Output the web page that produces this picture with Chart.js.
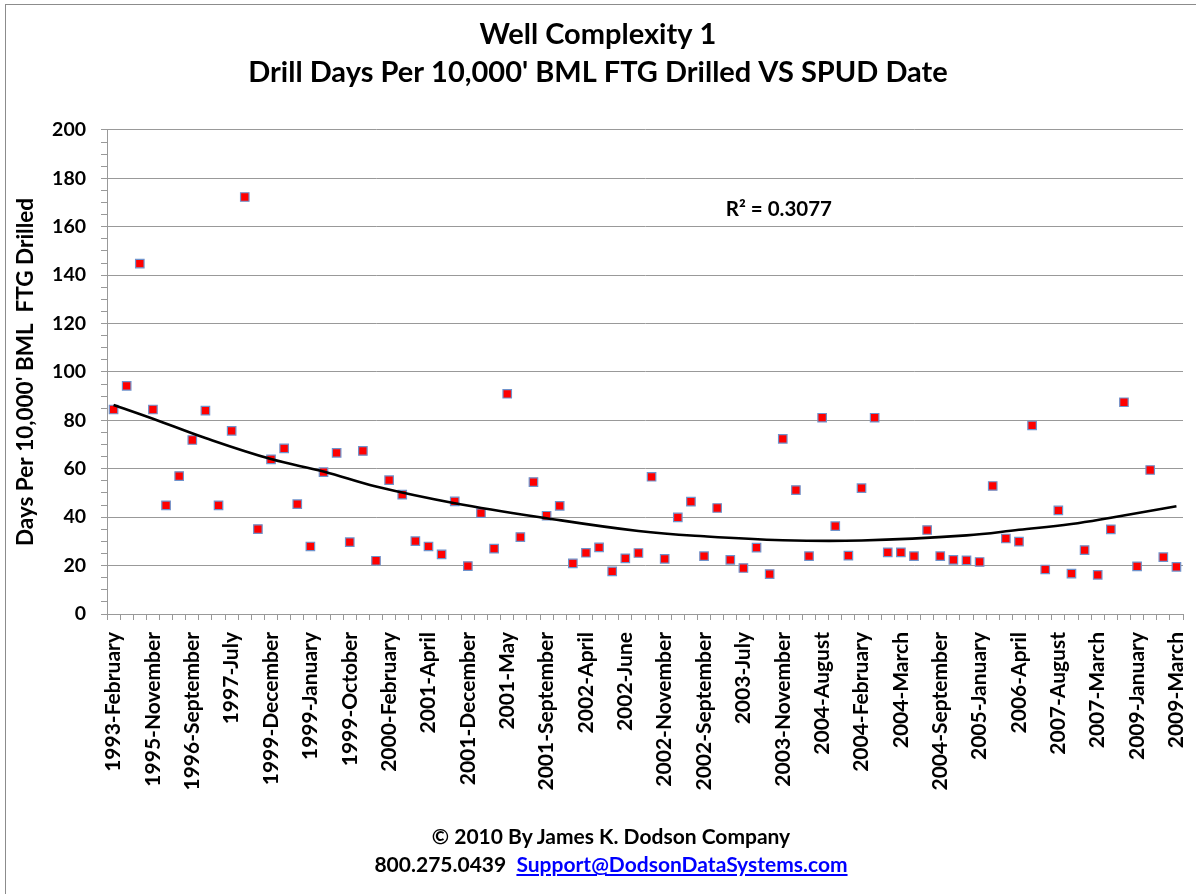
<!DOCTYPE html>
<html>
<head>
<meta charset="utf-8">
<script src="https://cdn.jsdelivr.net/npm/chart.js@4.4.1/dist/chart.umd.min.js"></script>
<style>
  body { margin: 0; background: #fff; }
  #wrap { position: relative; width: 1196px; height: 894px; }
  #frame { position: absolute; left: 5px; top: 4px; width: 1200px; height: 900px;
           border-left: 1px solid #8c8c8c; border-top: 1px solid #8c8c8c; }
  .foot { position: absolute; left: 13px; width: 1196px; text-align: center;
          font: bold 21px/25px Lato, sans-serif; color: #000; }
  .foot a { color: #0000ff; text-decoration: underline; }
</style>
</head>
<body>
<div id="wrap">
  <canvas id="wellChart" width="1196" height="894"></canvas>
  <div id="frame"></div>
  <div class="foot" style="top:823px">© 2010 By James K. Dodson Company</div>
  <div class="foot" style="top:851px">800.275.0439&nbsp;&nbsp;<a href="#">Support@DodsonDataSystems.com</a></div>
</div>
<script>
// tick labels shown on the x axis (every 3rd well)
const tickLabels = [
  '1993-February', '1995-November', '1996-September', '1997-July', '1999-December',
  '1999-January', '1999-October', '2000-February', '2001-April', '2001-December',
  '2001-May', '2001-September', '2002-April', '2002-June', '2002-November',
  '2002-September', '2003-July', '2003-November', '2004-August', '2004-February',
  '2004-March', '2004-September', '2005-January', '2006-April', '2007-August',
  '2007-March', '2009-January', '2009-March'
];

// drill days per 10,000' for each well, in SPUD order
const drillDays = [
  84.5, 94.3, 144.8, 84.5, 44.9, 57.0, 71.9, 84.0, 44.9, 75.7,
  172.3, 35.1, 63.9, 68.4, 45.4, 27.9, 58.6, 66.6, 29.7, 67.4,
  22.0, 55.3, 49.3, 30.1, 27.9, 24.6, 46.5, 19.8, 41.7, 27.0,
  91.0, 31.8, 54.5, 40.6, 44.7, 20.9, 25.3, 27.5, 17.6, 23.0,
  25.2, 56.7, 22.8, 39.9, 46.4, 23.9, 43.8, 22.4, 19.0, 27.4,
  16.5, 72.4, 51.2, 23.9, 81.1, 36.3, 24.1, 52.0, 81.1, 25.5,
  25.5, 23.9, 34.7, 23.9, 22.4, 22.2, 21.5, 52.9, 31.2, 29.9,
  77.9, 18.4, 42.8, 16.7, 26.4, 16.2, 35.0, 87.5, 19.7, 59.5,
  23.5, 19.5
];

// polynomial trendline (well index -> value)
const trendIndex = [0, 3, 7, 12, 16, 20, 26, 33, 40, 45, 51, 57, 65, 69, 73, 76, 81];
const trendValue = [86.4, 80.7, 72.7, 64.0, 58.9, 52.7, 45.8, 39.6, 34.3, 32.1, 30.5, 30.4, 32.5, 34.8, 37.2, 39.8, 44.5];

const rSquared = 'R² = 0.3077';

// one category per well, only every 3rd one carries a label
const categories = drillDays.map((v, i) => (i % 3 === 0 ? tickLabels[i / 3] : ''));
const trendData = drillDays.map(() => null);
trendIndex.forEach((idx, k) => { trendData[idx] = trendValue[k]; });

const fontFamily = 'Lato, sans-serif';
const gridGray = '#999999';

const rSquaredLabel = {
  id: 'rSquaredLabel',
  afterDatasetsDraw(chart) {
    const { ctx, scales } = chart;
    ctx.save();
    ctx.font = 'bold 20.5px ' + fontFamily;
    ctx.fillStyle = '#000';
    ctx.textAlign = 'center';
    ctx.textBaseline = 'middle';
    ctx.fillText(rSquared, scales.x.getPixelForValue(50.7), scales.y.getPixelForValue(167));
    ctx.restore();
  }
};

const ctx = document.getElementById('wellChart').getContext('2d');
const wellChart = new Chart(ctx, {
  type: 'line',
  data: {
    labels: categories,
    datasets: [
      {
        label: 'Trend',
        data: trendData,
        borderColor: '#000',
        borderWidth: 2.6,
        pointRadius: 0,
        spanGaps: true,
        tension: 0.4,
        order: 0
      },
      {
        label: 'Drill Days',
        data: drillDays,
        showLine: false,
        pointStyle: 'rect',
        pointRadius: 6,
        backgroundColor: '#ff0000',
        borderColor: '#6f93cc',
        borderWidth: 1.2,
        order: 1
      }
    ]
  },
  options: {
    responsive: false,
    animation: false,
    layout: { padding: { left: 13, right: 13, top: 0, bottom: 0 } },
    plugins: {
      legend: { display: false },
      tooltip: { enabled: false },
      title: {
        display: true,
        text: ['Well Complexity 1', "Drill Days Per 10,000' BML FTG Drilled VS SPUD Date"],
        color: '#000',
        font: { family: fontFamily, size: 29, weight: 'bold', lineHeight: 1.31 },
        padding: { top: 16, bottom: 38 }
      }
    },
    scales: {
      x: {
        offset: true,
        grid: { offset: true, drawOnChartArea: false, tickLength: 6, color: gridGray },
        border: { color: gridGray },
        ticks: {
          autoSkip: false, minRotation: 90, maxRotation: 90, padding: 12,
          color: '#000', font: { family: fontFamily, size: 21, weight: 'bold' }
        },
        afterFit(scale) {
          scale.height = 280;
          scale.paddingLeft = 0;
          scale.paddingRight = 0;
        }
      },
      y: {
        min: 0, max: 200,
        grid: {
          color: (c) => (c.tick && c.tick.value % 20 === 0 ? gridGray : 'rgba(0,0,0,0)'),
          tickColor: gridGray, tickLength: 6
        },
        border: { color: gridGray },
        ticks: {
          stepSize: 5, autoSkip: false, padding: 15, color: '#000',
          font: { family: fontFamily, size: 19.5, weight: 'bold' },
          callback: (v) => (v % 20 === 0 ? v : '')
        },
        title: {
          display: true,
          text: "Days Per 10,000' BML  FTG Drilled",
          color: '#000',
          font: { family: fontFamily, size: 22.5, weight: 'bold', lineHeight: 1.1 },
          padding: { top: 0, bottom: 0 }
        },
        afterFit(scale) { scale.width = 94; }
      }
    }
  },
  plugins: [rSquaredLabel]
});
</script>
</body>
</html>
